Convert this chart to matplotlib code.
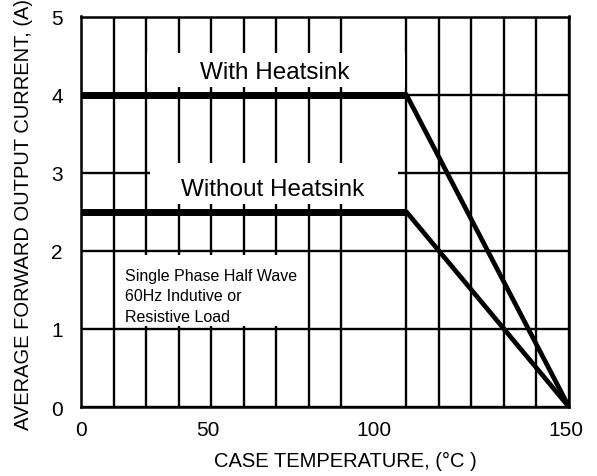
import numpy as np
import matplotlib
matplotlib.use("Agg")
import matplotlib.pyplot as plt
from matplotlib.patches import Rectangle

plt.rcParams['font.family'] = ['Liberation Sans', 'DejaVu Sans']

# derating curves (case temperature in degC, current in A)
temp_with = [0, 100, 150]
curr_with = [4.0, 4.0, 0.0]
temp_without = [0, 100, 150]
curr_without = [2.5, 2.5, 0.0]

# tick labels as printed on the sheet (labels sit a bit off their gridlines)
xtick_pos = [0, 39, 90, 149]
xtick_labels = ["0", "50", "100", "150"]
ytick_vals = [0, 1, 2, 3, 4, 5]

note_lines = ["Single Phase Half Wave", "60Hz Indutive or", "Resistive Load"]

fig = plt.figure(figsize=(5.97, 4.77), dpi=100)
ax = fig.add_axes([81 / 597, 1 - 408 / 477, 488 / 597, 390.5 / 477])

ax.set_xlim(0, 150)
ax.set_ylim(0, 5)

ax.set_xticks(xtick_pos)
ax.set_xticklabels(xtick_labels)
ax.set_xticks(np.arange(0, 151, 10), minor=True)
ax.set_yticks(ytick_vals)
ax.tick_params(which="both", length=0)
ax.tick_params(axis="x", pad=9.5, labelsize=15)
ax.tick_params(axis="y", pad=13, labelsize=15)

ax.set_axisbelow(True)
ax.grid(which="minor", axis="x", color="black", lw=1.7)
ax.grid(which="major", axis="y", color="black", lw=1.7)
ax.grid(which="major", axis="x", visible=False)
for sp in ax.spines.values():
    sp.set_linewidth(1.8)

# white patches behind the labels (grid is cut there)
for (x0, x1, y0, y1) in [(20.3, 99.7, 4.10, 4.53),
                         (21.2, 97.4, 2.60, 3.12),
                         (11.0, 69.0, 1.04, 1.95)]:
    ax.add_patch(Rectangle((x0, y0), x1 - x0, y1 - y0, facecolor="white",
                           edgecolor="none", zorder=1.5))

for t, c in [(temp_with, curr_with), (temp_without, curr_without)]:
    ax.plot(t[:2], c[:2], color="black", lw=5, solid_capstyle="butt", zorder=2)
    ax.plot(t[1:], c[1:], color="black", lw=3.4, solid_capstyle="round", zorder=2)

ax.text(59.5, 4.21, "With Heatsink", ha="center", va="baseline", fontsize=17.5, zorder=3)
ax.text(59.0, 2.71, "Without Heatsink", ha="center", va="baseline", fontsize=17.5, zorder=3)
ax.text(13.5, 1.78, "\n".join(note_lines), ha="left", va="top", fontsize=11.5,
        linespacing=1.45, zorder=3)

ax.set_xlabel("CASE TEMPERATURE, (°C )", fontsize=14.5, va="center")
ax.xaxis.set_label_coords(0.541, -0.138)
ax.set_ylabel("AVERAGE FORWARD OUTPUT CURRENT, (A)", fontsize=14.5, va="center")
ax.yaxis.set_label_coords(-0.118, 0.495)

fig.savefig("out.png", dpi=100)
